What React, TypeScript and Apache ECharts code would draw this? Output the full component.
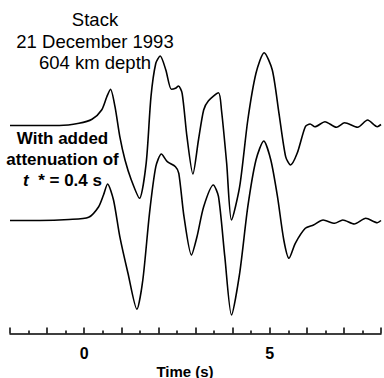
import React, { useEffect, useRef } from "react";
import * as echarts from "echarts";

// Time (s)
const topTime = [-2.0, -1.2, -0.67, -0.14, 0.21, 0.47, 0.61, 0.71, 0.83, 0.96, 1.1, 1.27, 1.49, 1.67, 1.8, 1.93, 2.05, 2.2, 2.35, 2.46, 2.54, 2.64, 2.77, 2.93, 3.08, 3.22, 3.35, 3.62, 3.7, 3.84, 3.97, 4.19, 4.41, 4.63, 4.85, 5.07, 5.25, 5.43, 5.56, 5.74, 5.96, 6.09, 6.22, 6.49, 6.8, 7.02, 7.37, 7.64, 7.9, 8.0];
// Amplitude of the stack (relative)
const topAmp = [0, 0, 0, 0.22, 0.62, 1.55, 2.88, 3.62, 1.88, -1.12, -3.45, -5.45, -7.28, -3.78, 2.88, 6.22, 6.95, 5.55, 3.62, 3.72, 3.95, 3.22, -1.12, -4.85, -1.45, 1.55, 2.48, 3.28, 1.55, -3.78, -9.45, -6.12, 0.55, 5.22, 7.28, 5.55, 1.22, -3.12, -3.95, -2.78, -0.12, 0.15, -0.12, 0.38, -0.18, 0.28, -0.18, 0.55, -0.12, 0.1];

const bottomTime = [-2.0, -1.2, -0.41, 0.12, 0.39, 0.52, 0.63, 0.79, 0.96, 1.18, 1.42, 1.58, 1.76, 1.93, 2.08, 2.24, 2.46, 2.55, 2.69, 2.89, 3.04, 3.22, 3.48, 3.62, 3.79, 3.97, 4.19, 4.41, 4.63, 4.84, 5.03, 5.21, 5.38, 5.52, 5.69, 5.96, 6.18, 6.44, 6.75, 6.97, 7.28, 7.59, 7.9, 8.0];
// Amplitude with added attenuation t* = 0.4 s (relative)
const bottomAmp = [0, 0, 0.1, 0.32, 1.38, 2.55, 3.65, 2.05, -1.62, -5.28, -8.88, -5.95, 0.72, 5.38, 6.65, 5.88, 5.38, 4.72, 0.38, -3.45, -1.62, 1.38, 3.55, 2.38, -3.62, -9.45, -5.28, 1.38, 6.05, 7.95, 6.05, 2.38, -1.95, -3.78, -2.28, -0.78, -0.45, 0.05, -0.28, 0.05, -0.35, 0.22, -0.22, 0];

const TOP_OFFSET = 0;
const BOTTOM_OFFSET = -9.5;

const labeledTicks = [0, 5];

export default function App() {
  const ref = useRef<HTMLDivElement>(null);
  useEffect(() => {
    if (!ref.current) return;
    const chart = echarts.init(ref.current, null, { renderer: "svg" });
    const topData = topTime.map((t, i) => [t, topAmp[i] + TOP_OFFSET]);
    const bottomData = bottomTime.map((t, i) => [t, bottomAmp[i] + BOTTOM_OFFSET]);
    const font = "'Liberation Sans', Arial, Helvetica, sans-serif";
    chart.setOption({
      animation: false,
      backgroundColor: "#fff",
      grid: { left: 10, right: -3, top: 0, bottom: 44.5, containLabel: false },
      xAxis: {
        type: "value",
        min: -2,
        max: 8,
        interval: 1,
        axisLine: { show: true, onZero: false, lineStyle: { color: "#000", width: 1.5 } },
        axisTick: { show: true, inside: true, length: 6, lineStyle: { color: "#000", width: 1.5 } },
        minorTick: { show: true, splitNumber: 2, length: 3, lineStyle: { color: "#000", width: 1.5 } },
        splitLine: { show: false },
        minorSplitLine: { show: false },
        axisLabel: {
          margin: 12,
          color: "#000",
          fontFamily: font,
          fontSize: 16,
          fontWeight: "bold",
          formatter: (v: number) => (labeledTicks.includes(v) ? String(v) : ""),
        },
      },
      yAxis: {
        type: "value",
        min: -20.8,
        max: 12.55,
        show: false,
        splitLine: { show: false },
      },
      series: [
        {
          type: "line",
          data: topData,
          showSymbol: false,
          smooth: 0.25,
          lineStyle: { color: "#000", width: 1.6 },
        },
        {
          type: "line",
          data: bottomData,
          showSymbol: false,
          smooth: 0.25,
          lineStyle: { color: "#000", width: 1.6 },
        },
      ],
      graphic: [
        {
          type: "text",
          x: 95,
          y: 9,
          style: {
            text: "Stack\n21 December 1993\n604 km depth",
            fontFamily: font,
            fontSize: 18.5,
            lineHeight: 21.5,
            fill: "#000",
            align: "center",
            verticalAlign: "top",
          },
        },
        {
          type: "text",
          x: 62.5,
          y: 128,
          style: {
            text: "{b|With added}\n{b|attenuation of}\n{i|t}{b|  * = 0.4 s}",
            fill: "#000",
            align: "center",
            verticalAlign: "top",
            rich: {
              b: { fontFamily: font, fontSize: 17, fontWeight: "bold", lineHeight: 21, fill: "#000" },
              i: { fontFamily: font, fontSize: 17, fontWeight: "bold", fontStyle: "italic", lineHeight: 21, fill: "#000" },
            },
          },
        },
        {
          type: "text",
          x: 185,
          y: 371,
          style: {
            text: "Time (s)",
            fontFamily: font,
            fontSize: 15,
            fontWeight: "bold",
            fill: "#000",
            align: "center",
            verticalAlign: "middle",
          },
        },
      ],
    });
    return () => chart.dispose();
  }, []);
  return (
    <div
      ref={ref}
      style={{ position: "fixed", left: 0, top: 0, width: 384, height: 378 }}
    />
  );
}
